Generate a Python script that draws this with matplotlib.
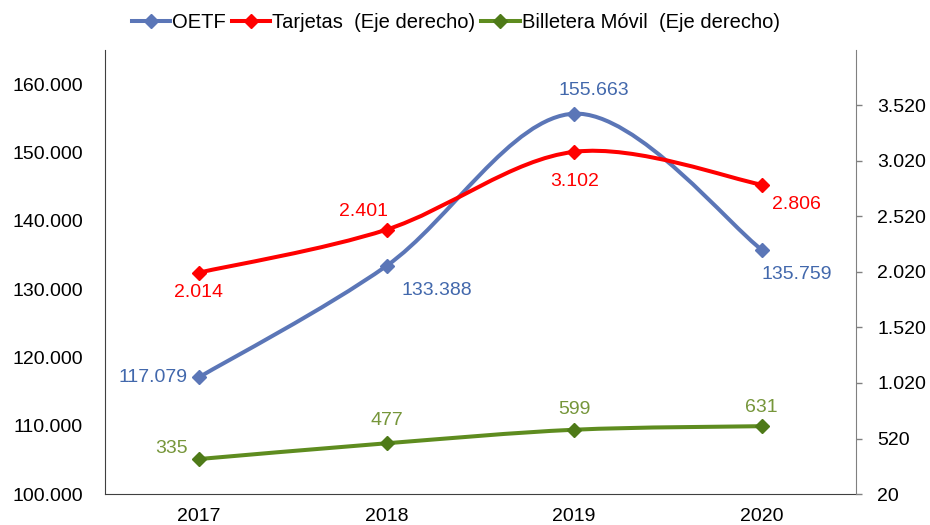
import matplotlib
matplotlib.use("Agg")
import matplotlib.pyplot as plt
from matplotlib.path import Path
from matplotlib.patches import PathPatch
from matplotlib.lines import Line2D
from matplotlib.ticker import FuncFormatter

years = ['2017', '2018', '2019', '2020']
oetf = [117079, 133388, 155663, 135759]
tarjetas = [2014, 2401, 3102, 2806]
billetera = [335, 477, 599, 631]

plt.rcParams['font.family'] = ['Liberation Sans', 'DejaVu Sans']

BLUE = '#5B76B7'
BLUE_TXT = '#4268AC'
RED = '#FF0000'
GREEN = '#5E8C1F'
GREEN_MK = '#4E7A18'
GREEN_TXT = '#76963A'
FS = 14


def dots(v):
    return f"{int(round(v)):,}".replace(',', '.')


def smooth_path(xs, ys):
    # excel style smoothing: cubic bezier through the points
    n = len(xs)
    pts = list(zip(xs, ys))
    verts = [pts[0]]
    codes = [Path.MOVETO]
    for i in range(n - 1):
        p0 = pts[i - 1] if i > 0 else pts[i]
        p1 = pts[i]
        p2 = pts[i + 1]
        p3 = pts[i + 2] if i + 2 < n else pts[i + 1]
        c1 = (p1[0] + (p2[0] - p0[0]) / 6, p1[1] + (p2[1] - p0[1]) / 6)
        c2 = (p2[0] - (p3[0] - p1[0]) / 6, p2[1] - (p3[1] - p1[1]) / 6)
        verts += [c1, c2, p2]
        codes += [Path.CURVE4] * 3
    return Path(verts, codes)


def draw(ax, vals, color, mcolor, txtcolor, offsets, z):
    x = list(range(len(vals)))
    ax.add_patch(PathPatch(smooth_path(x, vals), facecolor='none', edgecolor=color,
                           lw=2.9, capstyle='round', zorder=z))
    ax.plot(x, vals, ls='none', marker='D', ms=7, color=mcolor, zorder=z + 0.5)
    for xi, v, (dx, dy, ha) in zip(x, vals, offsets):
        ax.annotate(dots(v), (xi, v), xytext=(dx, dy), textcoords='offset pixels',
                    ha=ha, va='center', fontsize=FS, color=txtcolor, zorder=z + 1)


fig = plt.figure(figsize=(9.3, 5.25), dpi=100)
ax = fig.add_axes([0.113, 0.059, 0.807, 0.846])
ax2 = ax.twinx()

ax.set_xlim(-0.5, 3.5)
ax.set_ylim(100000, 165000)
ax2.set_ylim(20, 4020)

ax.set_yticks(range(100000, 160001, 10000))
ax2.set_yticks(range(20, 3521, 500))
ax.yaxis.set_major_formatter(FuncFormatter(lambda v, p: dots(v)))
ax2.yaxis.set_major_formatter(FuncFormatter(lambda v, p: dots(v)))
ax.set_xticks(range(len(years)))
ax.set_xticklabels(years)

ax.tick_params(axis='y', length=0, pad=16, labelsize=FS)
ax.tick_params(axis='x', length=0, pad=10, labelsize=FS)
ax2.tick_params(axis='y', length=4.5, width=1, color='#808080', direction='out', pad=11, labelsize=FS)

for a in (ax, ax2):
    a.spines['top'].set_visible(False)
ax.spines['left'].set_color('#404040')
ax.spines['bottom'].set_color('#404040')
ax.spines['right'].set_visible(False)
ax2.spines['left'].set_visible(False)
ax2.spines['bottom'].set_visible(False)
ax2.spines['right'].set_color('#808080')

draw(ax, oetf, BLUE, BLUE, BLUE_TXT,
     [(-11, 0, 'right'), (50, -25, 'center'), (20, 23, 'center'), (35, -25, 'center')], 3)
draw(ax2, tarjetas, RED, RED, RED,
     [(0, -20, 'center'), (-23, 18, 'center'), (0, -30, 'center'), (35, -20, 'center')], 4)
draw(ax2, billetera, GREEN, GREEN_MK, GREEN_TXT,
     [(-27, 11, 'center'), (0, 23, 'center'), (0, 20, 'center'), (0, 19, 'center')], 5)

handles = [
    Line2D([], [], color=BLUE, lw=2.9, marker='D', ms=7),
    Line2D([], [], color=RED, lw=2.9, marker='D', ms=7),
    Line2D([], [], color=GREEN, lw=2.9, marker='D', ms=7, markerfacecolor=GREEN_MK, markeredgecolor=GREEN_MK),
]
labels = ['OETF', 'Tarjetas  (Eje derecho)', 'Billetera Móvil  (Eje derecho)']
fig.legend(handles, labels, loc='center', bbox_to_anchor=(0.49, 0.958), ncol=3,
           frameon=False, handlelength=1.9, handletextpad=0.1, columnspacing=0.3,
           prop={'size': 14.5})

fig.savefig('out.png', dpi=100)
